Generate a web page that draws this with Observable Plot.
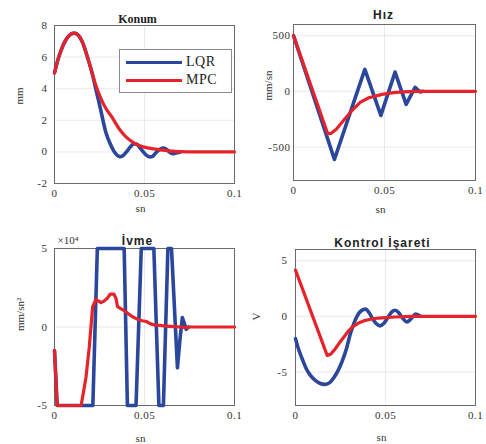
<!DOCTYPE html>
<html><head><meta charset="utf-8">
<script src="https://cdn.jsdelivr.net/npm/d3@7"></script>
<script src="https://cdn.jsdelivr.net/npm/@observablehq/plot@0.6"></script>
<style>
body{margin:0;background:#fff}
#wrap{position:relative;width:486px;height:444px;overflow:hidden;background:#fff}
.panel{position:absolute}
g[font-family="Liberation Sans"]{letter-spacing:1px}
g[aria-label="x-axis tick label"], g[aria-label="y-axis tick label"]{letter-spacing:0.5px}
#legend{position:absolute;left:119px;top:49px;width:111px;height:42px;border:1px solid #8a8a8a;background:#fff;font:14px "Liberation Serif";line-height:14px;color:#222;z-index:5}
#legend .sw{position:absolute;left:6px;width:56px;height:3px}
#legend .lb{position:absolute;left:66px;letter-spacing:0.5px}
</style></head><body><div id="wrap"></div>
<script>
const BLUE = "#2b479c", RED = "#e5232b";
const seriesNames = ["LQR", "MPC"];
const xTicks = [0, 0.05, 0.1];

// Konum (mm)
const konumLQR = [[0,5.0],[0.0017,5.75],[0.0034,6.35],[0.0061,7.05],[0.0085,7.4],[0.011,7.52],[0.0135,7.35],[0.0155,6.95],[0.0183,6.0],[0.021,4.95],[0.0229,4.0],[0.025,3.0],[0.0285,1.25],[0.031,0.5],[0.033,0.05],[0.0345,-0.18],[0.0363,-0.3],[0.038,-0.24],[0.040,0.0],[0.042,0.3],[0.044,0.5],[0.0455,0.5],[0.047,0.33],[0.049,0.05],[0.051,-0.2],[0.053,-0.32],[0.0545,-0.28],[0.056,-0.1],[0.058,0.12],[0.0605,0.24],[0.0625,0.14],[0.064,-0.02],[0.0662,-0.12],[0.068,-0.05],[0.070,0]];
const konumMPC = [[0,5.0],[0.0017,5.75],[0.0034,6.35],[0.0061,7.05],[0.0085,7.4],[0.011,7.52],[0.0135,7.35],[0.0155,6.95],[0.0183,6.0],[0.021,4.95],[0.023,4.2],[0.0257,3.4],[0.028,2.85],[0.0322,2.15],[0.036,1.45],[0.0397,0.95],[0.043,0.65],[0.046,0.45],[0.050,0.3],[0.055,0.19],[0.060,0.11],[0.065,0.05],[0.070,0.02],[0.076,0],[0.1,0]];

// Hız (mm/sn)
const hizLQR = [[0,500],[0.0225,-610],[0.0392,197],[0.048,-216],[0.0558,173],[0.0619,-117],[0.0668,35],[0.0695,-5],[0.071,0]];
const hizMPC = [[0,500],[0.0188,-380],[0.0205,-378],[0.0235,-340],[0.0276,-260],[0.0322,-170],[0.0368,-96],[0.0414,-57],[0.0487,-27],[0.055,-12],[0.060,-5],[0.068,0],[0.1,0]];

// İvme (mm/sn²)
const ivmeLQR = [[0,-15000],[0.0015,-50000],[0.0213,-50000],[0.0238,50000],[0.0387,50000],[0.0405,-50000],[0.0453,-50000],[0.0482,50000],[0.0552,50000],[0.058,-50000],[0.0605,-50000],[0.063,50000],[0.065,50000],[0.0683,-26000],[0.0697,-8000],[0.071,6000],[0.0722,2000],[0.0732,-1500],[0.0745,0]];
const ivmeMPC = [[0,-15000],[0.0015,-50000],[0.0148,-50000],[0.016,-42000],[0.0175,-32000],[0.0193,-13000],[0.0212,13000],[0.023,17500],[0.0245,16500],[0.0258,15500],[0.0275,16500],[0.0295,18500],[0.031,21000],[0.033,21000],[0.0342,18000],[0.035,13000],[0.037,11500],[0.0387,10500],[0.041,8500],[0.0433,6500],[0.046,5000],[0.0488,4000],[0.051,3500],[0.0534,2000],[0.056,1200],[0.0589,1000],[0.062,500],[0.066,300],[0.070,0],[0.073,-400],[0.0755,0],[0.1,0]];

// Kontrol İşareti (V)
const kontrolLQR = [[0,-2.0],[0.0018,-3.0],[0.0037,-3.8],[0.006,-4.7],[0.0083,-5.3],[0.011,-5.75],[0.0135,-6.0],[0.0165,-6.1],[0.019,-5.95],[0.0213,-5.5],[0.0237,-4.85],[0.026,-4.0],[0.0283,-2.9],[0.0306,-1.5],[0.0325,-0.6],[0.0343,0.05],[0.0365,0.5],[0.0389,0.65],[0.041,0.3],[0.0428,-0.2],[0.0448,-0.65],[0.047,-0.85],[0.049,-0.65],[0.0515,-0.05],[0.0535,0.4],[0.0554,0.55],[0.0575,0.3],[0.0597,-0.2],[0.0619,-0.5],[0.064,-0.25],[0.0668,0.2],[0.0695,0.0]];
const kontrolMPC = [[0,4.15],[0.0176,-3.5],[0.0195,-3.4],[0.0222,-2.9],[0.0245,-2.35],[0.0268,-1.87],[0.029,-1.4],[0.0315,-0.97],[0.035,-0.6],[0.0389,-0.36],[0.0425,-0.24],[0.0463,-0.15],[0.055,-0.06],[0.065,0],[0.1,0]];

const fmt = d => String(d);

function panel(o) {
  const svg = Plot.plot({
    width: 243, height: 222,
    marginLeft: o.ml, marginRight: o.mr, marginTop: o.mt, marginBottom: o.mb,
    style: {background: "transparent", fontFamily: "Liberation Serif", fontSize: "11px", color: "#333", overflow: "visible"},
    x: {domain: [0, 0.1], ticks: xTicks, tickFormat: fmt, tickSize: 0, tickPadding: 6, label: null, grid: true},
    y: {domain: o.yDomain, ticks: o.yTicks, tickFormat: o.yFmt || fmt, tickSize: 0, tickPadding: o.yPad, label: null, grid: true},
    marks: [
      Plot.frame({stroke: "#6a6a6a"}),
      Plot.line(o.lqr, {x: d => d[0], y: d => d[1], stroke: BLUE, strokeWidth: 3.6, curve: o.curveB}),
      Plot.line(o.mpc, {x: d => d[0], y: d => d[1], stroke: RED, strokeWidth: 3.2, curve: o.curveR}),
      Plot.text([o.title], {text: d => d, frameAnchor: "top", dx: o.tdx, dy: o.tdy, fontFamily: o.tfont, fontWeight: "bold", fontSize: 12, fill: "#222"}),
      Plot.text([o.ylabel], {text: d => d, frameAnchor: "left", rotate: -90, dx: o.ydx, dy: o.ydy, fill: "#333"}),
      Plot.text(["sn"], {text: d => d, frameAnchor: "bottom", dx: -4, dy: o.xdy, fill: "#333"}),
      ...(o.extra || [])
    ]
  });
  svg.classList.add("panel");
  svg.style.left = o.left + "px";
  svg.style.top = o.top + "px";
  return svg;
}

const wrap = document.getElementById("wrap");

wrap.appendChild(panel({left: 0, top: 0, ml: 54, mr: 9, mt: 25, mb: 39,
  yDomain: [-2, 8], yTicks: [-2, 0, 2, 4, 6, 8], yPad: 7,
  lqr: konumLQR, mpc: konumMPC, curveB: "monotone-x", curveR: "monotone-x",
  title: "Konum", tfont: "Liberation Serif", tdx: -7, tdy: -11,
  ylabel: "mm", ydx: -35, ydy: 0, xdy: 28}));

wrap.appendChild(panel({left: 243, top: 0, ml: 50, mr: 11, mt: 24, mb: 42,
  yDomain: [-800, 600], yTicks: [-500, 0, 500], yPad: 3,
  lqr: hizLQR, mpc: hizMPC, curveB: "linear", curveR: "linear",
  title: "Hız", tfont: "Liberation Sans", tdx: -1, tdy: -14,
  ylabel: "mm/sn", ydx: -25, ydy: -2, xdy: 32}));

wrap.appendChild(panel({left: 0, top: 222, ml: 54, mr: 9, mt: 26, mb: 39,
  yDomain: [-50000, 50000], yTicks: [-50000, 0, 50000], yFmt: d => String(d / 1e4), yPad: 7,
  lqr: ivmeLQR, mpc: ivmeMPC, curveB: "linear", curveR: "linear",
  title: "İvme", tfont: "Liberation Sans", tdx: -7, tdy: -12,
  ylabel: "mm/sn²", ydx: -34, ydy: 4, xdy: 36,
  extra: [Plot.text(["×10⁴"], {text: d => d, frameAnchor: "top-left", textAnchor: "start", dx: 3, dy: -12, fill: "#333"})]}));

wrap.appendChild(panel({left: 243, top: 222, ml: 52, mr: 11, mt: 27, mb: 39,
  yDomain: [-8, 6], yTicks: [-5, 0, 5], yPad: 8,
  lqr: kontrolLQR, mpc: kontrolMPC, curveB: "monotone-x", curveR: "linear",
  title: "Kontrol İşareti", tfont: "Liberation Sans", tdx: -3, tdy: -11,
  ylabel: "V", ydx: -39, ydy: -7, xdy: 35}));

// legend
const lg = document.createElement("div");
lg.id = "legend";
[BLUE, RED].forEach((c, i) => {
  const sw = document.createElement("div");
  sw.className = "sw"; sw.style.background = c; sw.style.top = (11 + i * 17.5) + "px";
  const lb = document.createElement("span");
  lb.className = "lb"; lb.textContent = seriesNames[i]; lb.style.top = (5 + i * 17.5) + "px";
  lg.appendChild(sw); lg.appendChild(lb);
});
wrap.appendChild(lg);
</script></body></html>
